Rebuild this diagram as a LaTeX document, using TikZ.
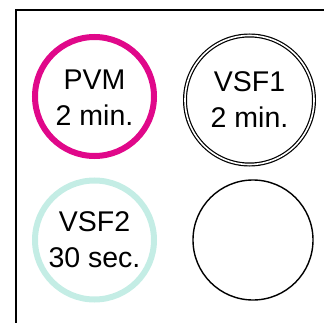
\documentclass[tikz,border=0pt]{standalone}
\usepackage{fontspec}
\setmainfont{Liberation Sans}
\definecolor{pvmcol}{HTML}{E0088A}
\definecolor{vsftwo}{HTML}{C4EDE5}
\begin{document}
\begin{tikzpicture}[x=1pt,y=1pt,
  lbl/.style={font=\fontsize{28.5}{36}\selectfont, align=center, inner sep=0pt},
  ring/.style={circle, inner sep=0pt, minimum size=119pt, line width=6pt},
]
\clip (0,0) rectangle (324,322);
\useasboundingbox (0,0) rectangle (324,322);
\draw[line width=2pt] (16,-5) -- (16,312) -- (330,312);
\node[ring, draw=pvmcol] (pvm) at (94.5,225.5) {};
\node[lbl] (pvmt) at ([yshift=-1pt]pvm.center) {PVM\\2 min.};
\node[circle, inner sep=0pt, minimum size=129pt, draw=black, double=white, line width=1.2pt, double distance=1.6pt] (vsf1) at (249.5,222) {};
\node[lbl] (vsf1t) at (vsf1.center) {VSF1\\2 min.};
\node[ring, draw=vsftwo] (vsf2) at (94.5,82) {};
\node[lbl] (vsf2t) at (vsf2.center) {VSF2\\30 sec.};
\node[circle, inner sep=0pt, minimum size=120pt, draw=black, line width=1.4pt] (empty) at (253,82) {};
\end{tikzpicture}
\end{document}
